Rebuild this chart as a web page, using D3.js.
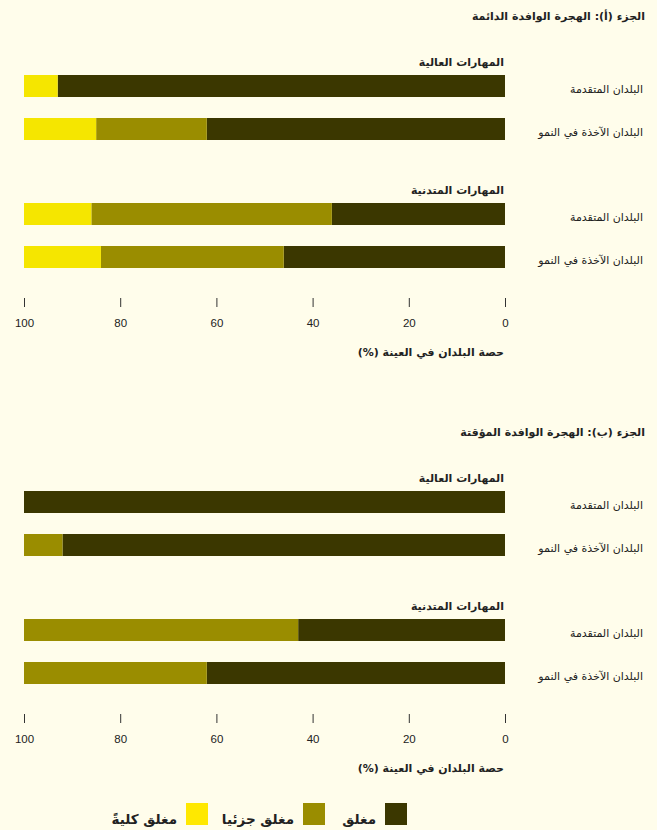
<!DOCTYPE html>
<html lang="ar">
<head>
<meta charset="utf-8">
<script src="https://cdn.jsdelivr.net/npm/d3@7"></script>
<style>
  body { margin: 0; background: #fffdeb; }
  svg { display: block; }
  .ar { font-family: "DejaVu Sans", sans-serif; direction: rtl; fill: #222; }
  .num { font-family: "Liberation Sans", Arial, sans-serif; fill: #222; }
</style>
</head>
<body>
<svg id="chart" width="657" height="830"></svg>
<script>
// بيانات الرسم
const partTitles = ["الجزء (أ):  الهجرة الوافدة الدائمة", "الجزء (ب): الهجرة الوافدة المؤقتة"];
const skillGroups = ["المهارات العالية", "المهارات المتدنية"];
const countryGroups = ["البلدان المتقدمة", "البلدان الآخذة في النمو"];
const seriesNames = ["مغلق", "مغلق جزئيا", "مغلق كليةً"];
const seriesColors = ["#3b3700", "#9a8d00", "#f5e600"];
const axisTitle = "حصة البلدان في العينة (%)";
const tickValues = [0, 20, 40, 60, 80, 100];

// الجزء (أ): عالية-متقدمة، عالية-نامية، متدنية-متقدمة، متدنية-نامية
const permClosed  = [93, 62, 36, 46];
const permPartial = [0, 23, 50, 38];
const permFull    = [7, 15, 14, 16];
// الجزء (ب)
const tempClosed  = [100, 92, 43, 62];
const tempPartial = [0, 8, 57, 38];
const tempFull    = [0, 0, 0, 0];

const parts = [
  [permClosed, permPartial, permFull],
  [tempClosed, tempPartial, tempFull]
];

const svg = d3.select("#chart");
const x = d3.scaleLinear().domain([0, 100]).range([505, 24]);
const partOffset = 416, groupGap = 128, rowGap = 43, barH = 22, barTop = 75;

parts.forEach(function(series, p) {
  const oy = p * partOffset;
  const g = svg.append("g");

  g.append("text").attr("class", "ar")
    .attr("x", 645).attr("y", oy + 20)
    .attr("font-size", 11).attr("font-weight", "bold")
    .text(partTitles[p]);

  skillGroups.forEach(function(skill, s) {
    const gy = oy + barTop + s * groupGap;
    g.append("text").attr("class", "ar")
      .attr("x", 504).attr("y", gy - 9)
      .attr("font-size", 11).attr("font-weight", "bold")
      .text(skill);

    countryGroups.forEach(function(cty, c) {
      const i = s * 2 + c;
      const y = gy + c * rowGap;
      let acc = 0;
      series.forEach(function(vals, k) {
        const v = vals[i];
        if (v > 0) {
          g.append("rect")
            .attr("x", x(acc + v)).attr("y", y)
            .attr("width", x(acc) - x(acc + v)).attr("height", barH)
            .attr("fill", seriesColors[k]);
        }
        acc += v;
      });
      g.append("text").attr("class", "ar")
        .attr("x", 643).attr("y", y + barH / 2 + 7)
        .attr("font-size", 11)
        .text(cty);
    });
  });

  // المحور
  const ay = oy + 298;
  const axis = g.append("g").attr("transform", `translate(0,${ay})`)
    .call(d3.axisBottom(x).tickValues(tickValues).tickSize(9).tickPadding(12));
  axis.select(".domain").remove();
  axis.selectAll(".tick line").attr("stroke", "#333");
  axis.selectAll(".tick text").attr("class", "num").attr("font-size", 11.5).attr("fill", "#222");

  g.append("text").attr("class", "ar")
    .attr("x", 504).attr("y", oy + 356)
    .attr("font-size", 11).attr("font-weight", "bold")
    .text(axisTitle);
});

// وسيلة الإيضاح
const legendX = [385, 303, 186];
const leg = svg.append("g");
seriesNames.forEach(function(name, k) {
  leg.append("rect").attr("x", legendX[k]).attr("y", 803)
    .attr("width", 22).attr("height", 22).attr("fill", k === 2 ? "#ffe800" : seriesColors[k]);
  leg.append("text").attr("class", "ar")
    .attr("x", legendX[k] - 9).attr("y", 824)
    .attr("font-size", 13.5).attr("font-weight", "bold")
    .text(name);
});
</script>
</body>
</html>
